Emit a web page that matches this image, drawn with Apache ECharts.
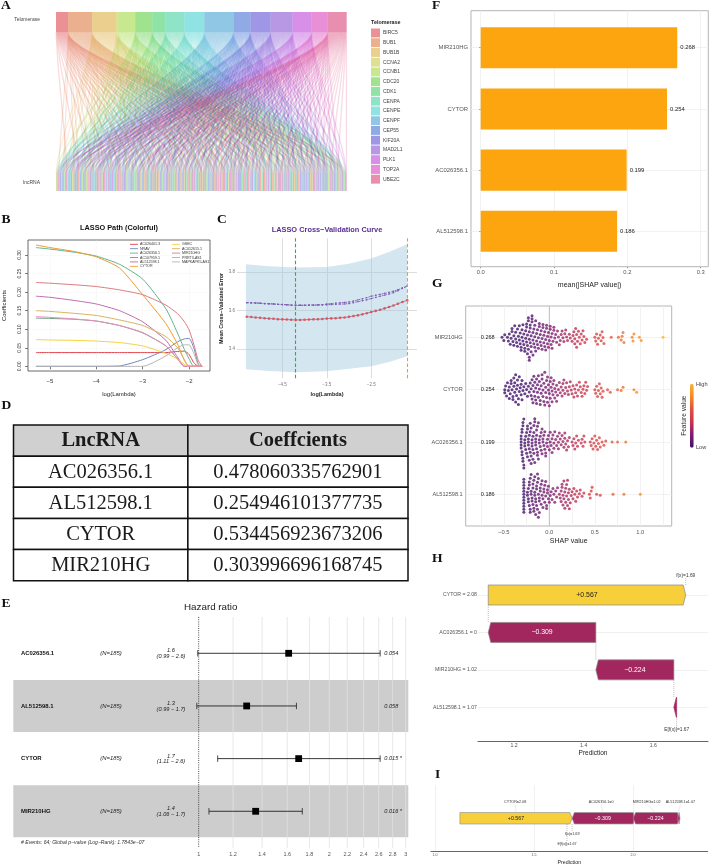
<!DOCTYPE html>
<html>
<head>
<meta charset="utf-8">
<style>html,body{margin:0;padding:0;background:#fff}#chart{width:711px;height:866px}</style>
<script src="https://cdn.jsdelivr.net/npm/echarts@6/dist/echarts.min.js"></script>
</head>
<body>
<div id="chart"></div>
<script>
// ---- Panel A: telomerase genes and the lncRNA each one links to ----
const telomeraseGenes = ['BIRC5','BUB1','BUB1B','CCNA2','CCNB1','CDC20','CDK1','CENPA','CENPE','CENPF','CEP55','KIF20A','MAD2L1','PLK1','TOP2A','UBE2C'];
const geneColors = ['#d8242e','#d8641f','#d8a01f','#bdc01f','#8fd11f','#3fc71f','#1fc750','#1fc790','#1fc7c7','#1f8fcb','#1f55cb','#3f30cb','#7130cb','#b01fd1','#d11fb0','#d11f60'];
const linksBIRC5 = [4,15,22,37,48,59,68,79,88,101,112,120,9,27,33,42,53,63,73,84,93,105,116,124];
const linksBUB1 = [1,7,12,18,24,29,35,41,44,50,56,61,66,70,75,81,86,90,96,100,106,110,117,122,3,9,14,20,26,31,37,43,48,52,58,63,68,73,78,83,88,92,98,103,108,113,119,124];
const linksBUB1B = [2,6,13,17,23,27,33,38,43,47,53,57,63,67,72,77,83,87,93,98,103,108,114,123,0,4,10,15,19,25,30,36,40,45,51,55,60,65,69,74,80,85,90,95,101,105,111,118];
const linksCCNA2 = [31,94,12,70];
const linksCCNB1 = [3,10,16,26,34,40,49,55,62,71,78,85,92,99,107,115,121,6,13,21,29,37,44,52,59,66,74,81,88,95,102,110,118,124];
const linksCDC20 = [0,9,19,25,32,42,51,58,64,73,80,89,95,104,111,118,124,4,12,22,28,36,45,54,61,67,76,83,92,98,106,114,120,122];
const linksCDK1 = [5,14,28,39,52,60,69,76,84,97,105,113,119,2,10,20,33,44,56,65,72,80,91,101,109,122];
const linksCENPA = [1,8,11,20,30,36,45,54,65,74,82,91,94,102,109,116,120,123,124,3,5,14,17,24,33,39,48,51,60,68,77,86,89,98,105,112,118,121];
const linksCENPE = [2,6,12,21,27,33,41,46,56,61,70,77,83,88,93,100,106,112,118,122,0,4,9,15,18,24,30,36,44,50,58,65,73,80,85,91,97,103,109,115];
const linksCENPF = [0,3,7,10,15,18,22,25,29,34,37,43,47,50,53,58,63,66,71,75,79,85,90,96,99,104,110,115,121,1,5,9,12,17,20,24,27,31,36,40,45,49,52,56,60,65,68,73,77,82,87,92,94,101,107,112,117,123];
const linksCEP55 = [4,13,19,24,32,39,48,55,62,68,78,86,92,101,108,114,119,1,8,16,22,28,35,43,51,58,65,73,82,89,96,104,111,116];
const linksKIF20A = [5,9,16,23,28,35,40,44,52,59,64,72,76,81,89,95,103,107,117,123,2,7,13,19,25,31,38,42,47,55,61,67,74,79,84,92,98,105,113,120];
const linksMAD2L1 = [1,8,14,17,21,26,31,38,42,49,54,60,67,73,80,84,91,97,102,111,116,124,4,11,16,23,28,34,36,44,47,52,57,63,70,76,78,87,94,100,106,109,114,120];
const linksPLK1 = [3,11,20,27,36,45,51,57,65,69,74,82,87,94,98,105,113,120,122,0,7,15,23,31,40,48,54,60,67,72,79,85,91,101,108,110,117,124];
const linksTOP2A = [6,12,19,30,41,46,56,63,70,77,83,90,100,109,115,121,3,9,16,25,35,44,52,59,66,74,80,87,96,104,111,118];
const linksUBE2C = [2,10,15,24,33,37,43,50,58,61,68,75,85,93,99,106,112,118,124,5,8,13,21,28,35,40,47,54,64,71,78,82,89,96,102,109,115,121];
const geneLinks = [linksBIRC5,linksBUB1,linksBUB1B,linksCCNA2,linksCCNB1,linksCDC20,linksCDK1,linksCENPA,linksCENPE,linksCENPF,linksCEP55,linksKIF20A,linksMAD2L1,linksPLK1,linksTOP2A,linksUBE2C];

// ---- Panel B: coefficient paths along log(lambda) ----
const pathLambda = [-5.3,-5,-4.5,-4,-3.5,-3,-2.5,-2.25,-2.1,-2,-1.9,-1.8,-1.72];
const pathAC026401 = [.037,.037,.037,.037,.037,.037,.037,.040,.041,.032,.010,0,0];
const pathNRAV = [0,0,0,0,.001,.018,.045,.066,.074,.075,.050,.005,0];
const pathAC026356 = [.320,.316,.308,.297,.275,.235,.155,.090,.045,.020,0,0,0];
const pathAC107959 = [.130,.129,.127,.122,.110,.090,.055,.020,0,0,0,0,0];
const pathAL512598 = [.189,.186,.178,.168,.150,.120,.070,.025,0,0,0,0,0];
const pathCYTOR = [.327,.320,.310,.295,.265,.193,.115,.060,.015,0,0,0,0];
const pathGSEC = [.072,.071,.070,.068,.064,.055,.035,.020,.005,0,0,0,0];
const pathAC012615 = [.150,.148,.143,.137,.125,.110,.080,.050,.018,0,0,0,0];
const pathMIR210HG = [.226,.224,.220,.215,.206,.193,.165,.142,.120,.098,.060,.015,0];
const pathPRRT3 = [.134,.132,.128,.122,.110,.091,.055,.020,0,0,0,0,0];
const pathMAPKAPK5 = [0,0,0,0,0,0,.028,.050,.058,.058,.035,.003,0];
const pathNames = ['AC026401.3','NRAV','AC026356.1','AC107959.1','AL512598.1','CYTOR','GSEC','AC012615.1','MIR210HG','PRRT3-AS1','MAPKAPK5-AS1'];
const pathValues = [pathAC026401,pathNRAV,pathAC026356,pathAC107959,pathAL512598,pathCYTOR,pathGSEC,pathAC012615,pathMIR210HG,pathPRRT3,pathMAPKAPK5];
const pathColors = ['#e2434b','#6f86c0','#5fb58e','#6f9f82','#c06bb0','#f39a2e','#f5d33d','#d9b35c','#dd7a80','#ec8ec0','#b5b5b5'];

// ---- Panel C: cross-validation error ----
const cvLambda = [-5.3,-5.2,-5.1,-5,-4.9,-4.8,-4.7,-4.6,-4.5,-4.4,-4.3,-4.2,-4.1,-4,-3.9,-3.8,-3.7,-3.6,-3.5,-3.4,-3.3,-3.2,-3.1,-3,-2.9,-2.8,-2.7,-2.6,-2.5,-2.4,-2.3,-2.2,-2.1,-2,-1.9,-1.8,-1.69];
const cvMean = [3.568,3.566,3.564,3.562,3.560,3.558,3.557,3.555,3.554,3.553,3.552,3.551,3.551,3.552,3.553,3.554,3.555,3.556,3.558,3.559,3.560,3.562,3.564,3.567,3.571,3.575,3.580,3.586,3.592,3.598,3.604,3.611,3.618,3.626,3.635,3.644,3.653];
const cvDashUpper = [3.641,3.640,3.639,3.638,3.636,3.635,3.634,3.632,3.631,3.630,3.628,3.627,3.627,3.627,3.628,3.628,3.629,3.630,3.634,3.636,3.638,3.640,3.642,3.644,3.649,3.655,3.661,3.667,3.674,3.679,3.684,3.689,3.694,3.700,3.708,3.717,3.727];
const cvDashLower = [3.641,3.640,3.639,3.638,3.636,3.635,3.634,3.632,3.631,3.630,3.628,3.627,3.627,3.627,3.628,3.628,3.629,3.630,3.630,3.631,3.632,3.633,3.634,3.636,3.641,3.646,3.651,3.656,3.662,3.668,3.674,3.680,3.686,3.693,3.703,3.715,3.726];
const ribbonLambda = [-5.32,-4.8,-4.2,-3.5,-3,-2.5,-2.1,-1.69];
const ribbonUpper = [3.84,3.83,3.824,3.826,3.843,3.87,3.904,3.944];
const ribbonLower = [3.295,3.286,3.279,3.284,3.298,3.31,3.333,3.362];
const lambdaMin = -4.2;
const lambdaOneSe = -1.69;

// ---- Panel D: model coefficients ----
const tableHeader = ['LncRNA','Coeffcients'];
const tableGenes = ['AC026356.1','AL512598.1','CYTOR','MIR210HG'];
const tableCoefs = ['0.478060335762901','0.254946101377735','0.534456923673206','0.303996696168745'];

// ---- Panel E: hazard ratios ----
const coxHR = [1.612,1.29,1.70,1.353];
const coxLow = [0.995,0.99,1.106,1.056];
const coxHigh = [2.62,1.68,2.62,1.733];
const coxHRText = ['1.6','1.3','1.7','1.4'];
const coxCIText = ['(0.99 \u2212 2.6)','(0.99 \u2212 1.7)','(1.11 \u2212 2.6)','(1.06 \u2212 1.7)'];
const coxPText = ['0.054','0.058','0.015 *','0.016 *'];
const coxTicks = [1,1.2,1.4,1.6,1.8,2,2.2,2.4,2.6,2.8,3];

// ---- Panels F and G: SHAP importance ----
const shapFeatures = ['MIR210HG','CYTOR','AC026356.1','AL512598.1'];
const shapMean = [0.268,0.254,0.199,0.186];
const shapMIR210HG = [-0.52,-0.50,-0.49,-0.46,-0.45,-0.44,-0.43,-0.42,-0.41,-0.41,-0.40,-0.39,-0.39,-0.38,-0.37,-0.37,-0.36,-0.35,-0.35,-0.34,-0.33,-0.33,-0.32,-0.32,-0.31,-0.31,-0.30,-0.30,-0.29,-0.29,-0.28,-0.28,-0.27,-0.27,-0.26,-0.26,-0.25,-0.25,-0.25,-0.24,-0.24,-0.24,-0.23,-0.23,-0.23,-0.22,-0.22,-0.22,-0.22,-0.21,-0.21,-0.21,-0.20,-0.20,-0.20,-0.19,-0.19,-0.19,-0.18,-0.18,-0.18,-0.17,-0.17,-0.16,-0.16,-0.16,-0.15,-0.15,-0.14,-0.14,-0.13,-0.13,-0.12,-0.12,-0.11,-0.11,-0.10,-0.10,-0.09,-0.09,-0.08,-0.08,-0.07,-0.07,-0.06,-0.06,-0.05,-0.05,-0.04,-0.04,-0.03,-0.03,-0.02,-0.02,-0.01,-0.01,0.00,0.01,0.01,0.02,0.02,0.03,0.03,0.04,0.05,0.05,0.06,0.07,0.08,0.09,0.10,0.11,0.12,0.13,0.14,0.15,0.16,0.17,0.18,0.19,0.20,0.22,0.23,0.25,0.26,0.27,0.28,0.28,0.29,0.30,0.30,0.31,0.32,0.33,0.34,0.35,0.36,0.37,0.38,0.39,0.41,0.50,0.51,0.52,0.53,0.54,0.56,0.57,0.58,0.59,0.60,0.68,0.76,0.79,0.80,0.81,0.82,0.91,0.92,0.93,0.99,1.01,1.25];
const shapCYTOR = [-0.49,-0.49,-0.48,-0.47,-0.46,-0.45,-0.44,-0.44,-0.43,-0.42,-0.42,-0.41,-0.40,-0.40,-0.39,-0.39,-0.38,-0.38,-0.37,-0.37,-0.36,-0.36,-0.35,-0.35,-0.34,-0.34,-0.33,-0.33,-0.32,-0.31,-0.31,-0.30,-0.30,-0.29,-0.28,-0.27,-0.26,-0.25,-0.24,-0.23,-0.22,-0.21,-0.20,-0.20,-0.19,-0.19,-0.18,-0.18,-0.17,-0.17,-0.16,-0.16,-0.15,-0.15,-0.14,-0.14,-0.13,-0.13,-0.12,-0.12,-0.11,-0.11,-0.10,-0.10,-0.09,-0.09,-0.08,-0.08,-0.07,-0.07,-0.06,-0.06,-0.05,-0.05,-0.04,-0.04,-0.03,-0.03,-0.02,-0.02,-0.01,-0.01,0.00,0.00,0.01,0.01,0.02,0.02,0.03,0.03,0.04,0.04,0.05,0.06,0.06,0.07,0.08,0.08,0.09,0.10,0.11,0.12,0.13,0.14,0.15,0.15,0.16,0.17,0.18,0.19,0.20,0.21,0.22,0.23,0.24,0.25,0.26,0.27,0.28,0.29,0.30,0.31,0.32,0.33,0.34,0.35,0.36,0.37,0.38,0.39,0.40,0.41,0.42,0.50,0.51,0.52,0.53,0.54,0.55,0.56,0.57,0.58,0.59,0.64,0.67,0.75,0.79,0.81,0.93,0.96];
const shapAC026356 = [-0.31,-0.31,-0.31,-0.31,-0.31,-0.30,-0.30,-0.30,-0.30,-0.29,-0.29,-0.29,-0.29,-0.28,-0.28,-0.28,-0.27,-0.27,-0.27,-0.26,-0.26,-0.25,-0.25,-0.24,-0.24,-0.24,-0.23,-0.23,-0.23,-0.22,-0.22,-0.22,-0.21,-0.21,-0.21,-0.20,-0.20,-0.20,-0.19,-0.19,-0.19,-0.18,-0.18,-0.18,-0.17,-0.17,-0.17,-0.16,-0.16,-0.16,-0.15,-0.15,-0.15,-0.14,-0.14,-0.14,-0.13,-0.13,-0.13,-0.12,-0.12,-0.11,-0.11,-0.10,-0.10,-0.09,-0.09,-0.08,-0.08,-0.07,-0.07,-0.06,-0.06,-0.05,-0.05,-0.04,-0.04,-0.03,-0.02,-0.02,-0.01,0,0.01,0.01,0.02,0.03,0.03,0.04,0.05,0.05,0.06,0.07,0.08,0.09,0.10,0.10,0.11,0.12,0.13,0.14,0.15,0.16,0.17,0.17,0.18,0.19,0.20,0.21,0.22,0.25,0.26,0.27,0.28,0.29,0.30,0.31,0.32,0.35,0.36,0.37,0.38,0.39,0.45,0.46,0.47,0.48,0.49,0.50,0.51,0.52,0.53,0.54,0.55,0.56,0.58,0.60,0.62,0.69,0.75,0.84];
const shapAL512598 = [-0.28,-0.28,-0.28,-0.28,-0.28,-0.28,-0.28,-0.28,-0.28,-0.28,-0.28,-0.28,-0.24,-0.24,-0.23,-0.23,-0.23,-0.22,-0.22,-0.22,-0.21,-0.21,-0.21,-0.20,-0.20,-0.20,-0.19,-0.19,-0.18,-0.18,-0.18,-0.17,-0.17,-0.17,-0.16,-0.16,-0.16,-0.15,-0.15,-0.15,-0.14,-0.14,-0.14,-0.13,-0.13,-0.13,-0.12,-0.12,-0.12,-0.11,-0.11,-0.11,-0.10,-0.10,-0.09,-0.09,-0.08,-0.08,-0.07,-0.07,-0.06,-0.06,-0.05,-0.05,-0.04,-0.04,-0.03,-0.03,-0.02,-0.02,-0.01,-0.01,0,0.01,0.02,0.03,0.04,0.05,0.06,0.07,0.08,0.09,0.11,0.12,0.13,0.13,0.14,0.14,0.15,0.15,0.16,0.16,0.17,0.17,0.18,0.18,0.19,0.19,0.20,0.20,0.21,0.21,0.22,0.22,0.23,0.24,0.25,0.26,0.27,0.28,0.29,0.30,0.31,0.33,0.34,0.36,0.38,0.44,0.45,0.46,0.47,0.52,0.56,0.70,0.82,1.00];
const shapRows = [shapMIR210HG,shapCYTOR,shapAC026356,shapAL512598];

// ---- Panels H and I: one sample's contributions ----
const contribLabels = ['CYTOR = 2.08','AC026356.1 = 0','MIR210HG = 1.02','AL512598.1 = 1.07'];
const forceLabels = ['CYTOR=2.08','AC026356.1=0','MIR210HG=1.02','AL512598.1=1.07'];
const contribValues = [0.567,-0.309,-0.224,-0.008];
const contribText = ['+0.567','\u22120.309','\u22120.224',''];
const baseValue = 1.667;
const predictedValue = 1.693;

const FONT = 'Liberation Sans';
const SERIF = 'Liberation Serif';
const box = (l, t, r, b, extra) => Object.assign({left: l, top: t, width: r - l, height: b - t, containLabel: false}, extra || {});
const hiddenAxis = (min, max, extra) => Object.assign({type: 'value', show: false, min, max}, extra || {});

const grids = [], xAxes = [], yAxes = [], series = [];
function addPanel(grid, xAxis, yAxis) {
  grids.push(grid);
  const i = grids.length - 1;
  xAxes.push(Object.assign({gridIndex: i}, xAxis));
  yAxes.push(Object.assign({gridIndex: i}, yAxis));
  return i;
}
function draw(panel, items, renderItem, extra) {
  series.push(Object.assign({
    type: 'custom', coordinateSystem: 'cartesian2d', xAxisIndex: panel, yAxisIndex: panel,
    data: items.map((_, i) => [i]), renderItem, silent: true, clip: false, encode: {x: -1, y: -1}
  }, extra || {}));
}
const label = (text, x, y, size, opts) => ({type: 'text', silent: true, style: Object.assign({
  text, x, y, fontFamily: FONT, fontSize: size, fill: '#333', align: 'center', verticalAlign: 'middle'}, opts || {})});
const rule = (x1, y1, x2, y2, style) => ({type: 'line', silent: true, shape: {x1, y1, x2, y2}, style: Object.assign({stroke: '#888', lineWidth: 0.7}, style || {})});

// Panel A: alluvial ribbons from each gene down to its lncRNA, stacked along both edges
const totalLinks = geneLinks.reduce((sum, list) => sum + list.length, 0);
const pA = addPanel(box(56, 12, 346.7, 191), hiddenAxis(0, totalLinks), hiddenAxis(0, 1));
const stripeTop = 0.888, stripeBottom = 0.099;
const lncWidth = new Array(125).fill(0);
geneLinks.forEach(list => list.forEach(k => lncWidth[k]++));
const lncStart = [];
lncWidth.reduce((sum, w, k) => (lncStart[k] = sum, sum + w), 0);
const lncUsed = new Array(125).fill(0);
let topCursor = 0;
telomeraseGenes.forEach((gene, g) => {
  const bandStart = topCursor;
  const flows = geneLinks[g].slice().sort((a, b) => a - b).map(k => ({top: topCursor++, bottom: lncStart[k] + lncUsed[k]++}));
  const bandEnd = topCursor;
  const color = geneColors[g];
  draw(pA, flows, (params, api) => {
    const f = flows[params.dataIndex];
    const a = api.coord([f.top + 0.5, stripeTop]), b = api.coord([f.bottom + 0.5, stripeBottom]);
    const span = b[1] - a[1];
    const b0 = api.coord([f.bottom, stripeBottom]), b1 = api.coord([f.bottom + 1, 0]);
    return {type: 'group', children: [
      {type: 'bezierCurve', silent: true, shape: {x1: a[0], y1: a[1], cpx1: a[0], cpy1: a[1] + span * 0.22, cpx2: b[0], cpy2: b[1] - span * 0.22, x2: b[0], y2: b[1]},
        style: {stroke: color, lineWidth: 1.3, opacity: 0.16, fill: 'none'}},
      {type: 'rect', silent: true, shape: {x: b0[0], y: b0[1], width: b1[0] - b0[0], height: b1[1] - b0[1]}, style: {fill: color, opacity: 0.42}}
    ]};
  }, {name: gene, itemStyle: {color, opacity: 0.5}});
  draw(pA, [gene], (params, api) => {
    const p0 = api.coord([bandStart, 1]), p1 = api.coord([bandEnd, stripeTop]);
    return {type: 'rect', silent: true, shape: {x: p0[0], y: p0[1], width: p1[0] - p0[0], height: p1[1] - p0[1]}, style: {fill: color, opacity: 0.5}};
  });
});

// Panel B: coefficient paths
const pB = addPanel(box(28, 240, 210, 371, {show: true, borderColor: '#444', borderWidth: 0.8}),
  {type: 'value', min: -5.47, max: -1.55, name: 'log(Lambda)', nameLocation: 'middle', nameGap: 20, nameTextStyle: {fontSize: 6, color: '#222'},
   axisLine: {show: false}, axisTick: {customValues: [-5,-4,-3,-2], length: 3, lineStyle: {color: '#444', width: 0.7}},
   axisLabel: {customValues: [-5,-4,-3,-2], fontSize: 6, color: '#333', margin: 7, formatter: v => String(v).replace('-', '\u2212')},
   splitLine: {show: true, lineStyle: {color: '#ececec', width: 0.6, type: 'dotted'}}},
  {type: 'value', min: -0.0126, max: 0.3404, name: 'Coefficients', nameLocation: 'middle', nameGap: 21, nameTextStyle: {fontSize: 6, color: '#222'},
   axisLine: {show: false}, axisTick: {customValues: [0,.05,.1,.15,.2,.25,.3], length: 3, lineStyle: {color: '#444', width: 0.7}},
   axisLabel: {customValues: [0,.05,.1,.15,.2,.25,.3], fontSize: 5, color: '#333', rotate: 90, margin: 6, formatter: v => v.toFixed(2)},
   splitLine: {show: true, lineStyle: {color: '#ececec', width: 0.6, type: 'dotted'}}});
pathNames.forEach((name, i) => {
  series.push({type: 'line', name, xAxisIndex: pB, yAxisIndex: pB, showSymbol: false, symbol: 'none', silent: true,
    smooth: 0.2, data: pathLambda.map((x, k) => [x, pathValues[i][k]]),
    lineStyle: {color: pathColors[i], width: 1}, itemStyle: {color: pathColors[i]}});
});

// Panel C: cross-validation curve with its band and the two chosen penalties
const pC = addPanel(box(237, 238.3, 417, 378.3),
  {type: 'value', min: -5.52, max: -1.47, name: 'log(Lambda)', nameLocation: 'middle', nameGap: 13, nameTextStyle: {fontSize: 5.5, fontWeight: 'bold', color: '#222'},
   axisLine: {show: false}, axisTick: {customValues: [-4.5,-3.5,-2.5], show: false},
   axisLabel: {customValues: [-4.5,-3.5,-2.5], fontSize: 4.5, color: '#777', margin: 4, formatter: v => String(v).replace('-', '\u2212')},
   splitLine: {show: true, lineStyle: {color: '#d9d9d9', width: 0.9}}},
  {type: 'value', min: 3.248, max: 3.975, name: 'Mean Cross\u2212Validated Error', nameLocation: 'middle', nameGap: 13, nameTextStyle: {fontSize: 5.3, fontWeight: 'bold', color: '#222'},
   axisLine: {show: false}, axisTick: {customValues: [3.4,3.6,3.8], show: false},
   axisLabel: {customValues: [3.4,3.6,3.8], fontSize: 4.5, color: '#777', margin: 2, formatter: v => v.toFixed(1)},
   splitLine: {show: true, lineStyle: {color: '#d9d9d9', width: 0.9}}});
draw(pC, [0], (params, api) => {
  const points = ribbonLambda.map((x, k) => api.coord([x, ribbonUpper[k]]))
    .concat(ribbonLambda.map((x, k) => api.coord([x, ribbonLower[k]])).reverse());
  return {type: 'polygon', silent: true, shape: {points}, style: {fill: '#9fc7de', opacity: 0.45}};
});
[cvDashUpper, cvDashLower].forEach(values => series.push({type: 'line', xAxisIndex: pC, yAxisIndex: pC, silent: true, symbol: 'rect', symbolSize: 1.4,
  data: cvLambda.map((x, k) => [x, values[k]]), lineStyle: {color: '#7d5bb0', width: 0.8, type: [2, 1.4]}, itemStyle: {color: '#7d5bb0'}}));
series.push({type: 'line', xAxisIndex: pC, yAxisIndex: pC, silent: true, symbol: 'circle', symbolSize: 2.6,
  data: cvLambda.map((x, k) => [x, cvMean[k]]), lineStyle: {color: '#8c7f96', width: 0.9}, itemStyle: {color: '#e2545c'},
  markLine: {silent: true, symbol: 'none', label: {show: false}, animation: false, data: [
    {xAxis: lambdaMin, lineStyle: {color: '#35b034', width: 1.1, type: [3.5, 2.2]}},
    {xAxis: lambdaOneSe, lineStyle: {color: '#f59a23', width: 1.1, type: [3.5, 2.2]}}]}});

// Panel D: coefficient table
const pD = addPanel(box(13.5, 425, 408, 580.7), hiddenAxis(0, 1), hiddenAxis(0, 5, {inverse: true}));
const tableRows = [tableHeader].concat(tableGenes.map((g, i) => [g, tableCoefs[i]]));
const colEnds = [0, 0.442, 1];
draw(pD, tableRows, (params, api) => {
  const r = params.dataIndex, children = [];
  tableRows[r].forEach((text, c) => {
    const a = api.coord([colEnds[c], r]), b = api.coord([colEnds[c + 1], r + 1]);
    children.push({type: 'rect', silent: true, shape: {x: a[0], y: a[1], width: b[0] - a[0], height: b[1] - a[1]},
      style: {fill: r === 0 ? '#d0d0d0' : '#fff', stroke: '#111', lineWidth: 1.5}});
    children.push(label(text, (a[0] + b[0]) / 2, (a[1] + b[1]) / 2 + 0.5, 20.5, {fontFamily: SERIF, fontWeight: r === 0 ? 'bold' : 'normal', fill: '#1a1a1a'}));
  });
  return {type: 'group', children};
});

// Panel E: forest plot on a logarithmic hazard-ratio scale
const pE = addPanel(box(13.3, 617, 408.3, 848), {type: 'log', show: false, min: 0.3738, max: 3.042}, hiddenAxis(0.311, 4.697, {inverse: true}));
draw(pE, [1, 3], (params, api) => {
  const row = [1, 3][params.dataIndex] + 1;
  const a = api.coord([0.3738, row - 0.5]), b = api.coord([3.042, row + 0.5]);
  return {type: 'rect', silent: true, shape: {x: a[0], y: a[1] + 0.4, width: b[0] - a[0], height: b[1] - a[1] - 0.8}, style: {fill: '#cdcdcd'}};
});
draw(pE, coxTicks, (params, api) => {
  const t = coxTicks[params.dataIndex];
  const a = api.coord([t, 0.311]), b = api.coord([t, 4.697]);
  const children = [label(String(t), a[0], b[1] + 6, 5.5, {fill: '#555'})];
  if (t === 1) children.unshift(rule(a[0], a[1], b[0], b[1], {stroke: '#222', lineWidth: 0.8, lineDash: [1, 1.2]}));
  else children.unshift(rule(a[0], a[1], b[0], b[1], {stroke: '#e2e2e2', lineWidth: 0.8}));
  return {type: 'group', children};
});
draw(pE, tableGenes, (params, api) => {
  const i = params.dataIndex, row = i + 1;
  const lo = api.coord([coxLow[i], row]), hi = api.coord([coxHigh[i], row]), mid = api.coord([coxHR[i], row]);
  const y = mid[1], s = 3.4;
  const it = {fontStyle: 'italic', fill: '#222'};
  return {type: 'group', children: [
    rule(lo[0], y, hi[0], y, {stroke: '#222', lineWidth: 0.9}),
    rule(lo[0], y - 3.2, lo[0], y + 3.2, {stroke: '#222', lineWidth: 0.8}),
    rule(hi[0], y - 3.2, hi[0], y + 3.2, {stroke: '#222', lineWidth: 0.8}),
    {type: 'rect', silent: true, shape: {x: mid[0] - s, y: y - s, width: 2 * s, height: 2 * s}, style: {fill: '#000'}},
    label(tableGenes[i], 21, y, 5.9, {align: 'left', fontWeight: 'bold', fill: '#111'}),
    label('(N=185)', 111, y, 5.9, it),
    label(coxHRText[i], 171, y - 2.6, 5.6, it),
    label(coxCIText[i], 171, y + 3, 5.6, it),
    label(coxPText[i], 384.3, y, 5.6, Object.assign({align: 'left'}, it))
  ]};
});

// Panel F: mean absolute SHAP bars
const shapAxisStyle = {axisLine: {show: false}, splitLine: {show: true, lineStyle: {color: '#ececec', width: 0.7}}};
const pF = addPanel(box(471, 10.7, 708.3, 266.7, {show: true, borderColor: '#b5b5b5', borderWidth: 1}),
  Object.assign({type: 'value', min: -0.0132, max: 0.3103, name: 'mean(|SHAP value|)', nameLocation: 'middle', nameGap: 15, nameTextStyle: {fontSize: 7, color: '#222'},
   axisTick: {customValues: [0,.1,.2,.3], length: 1.5, lineStyle: {color: '#999'}}, axisLabel: {customValues: [0,.1,.2,.3], fontSize: 5.8, color: '#555', margin: 3, formatter: v => v.toFixed(1)}}, shapAxisStyle),
  Object.assign({type: 'value', inverse: true, min: 0.395, max: 4.578,
   axisTick: {customValues: [1,2,3,4], length: 1.5, lineStyle: {color: '#999'}}, axisLabel: {customValues: [1,2,3,4], fontSize: 5.9, color: '#555', margin: 3, formatter: v => shapFeatures[v - 1]}}, shapAxisStyle));
draw(pF, shapFeatures, (params, api) => {
  const i = params.dataIndex, row = i + 1;
  const a = api.coord([0, row - 0.335]), b = api.coord([shapMean[i], row + 0.335]);
  return {type: 'group', children: [
    {type: 'rect', silent: true, shape: {x: a[0], y: a[1], width: b[0] - a[0], height: b[1] - a[1]}, style: {fill: '#fda50f'}},
    label(shapMean[i].toFixed(3), b[0] + 3, (a[1] + b[1]) / 2, 5.9, {align: 'left', fill: '#222'})
  ]};
});

// Panel G: beeswarm; offsets come from a collision search over the SHAP values
const swarmPxPerUnit = 91, swarmRowPx = 52.3, swarmGap = 3.75, swarmStackGap = 3;
function swarmOffsets(values) {
  const placed = [];
  return values.map(v => {
    const x = v * swarmPxPerUnit;
    const clearance = p => (p[0] === x ? swarmStackGap : swarmGap);
    const near = placed.filter(p => Math.abs(p[0] - x) < clearance(p));
    const options = [0];
    near.forEach(p => {
      const g = clearance(p);
      const dy = Math.sqrt(g * g - (p[0] - x) * (p[0] - x));
      options.push(p[1] + dy + 0.01, p[1] - dy - 0.01);
    });
    options.sort((a, b) => Math.abs(a) - Math.abs(b));
    const y = options.find(o => near.every(p => {
      const g = clearance(p);
      return (p[0] - x) * (p[0] - x) + (p[1] - o) * (p[1] - o) >= g * g - 0.001;
    }));
    placed.push([x, y]);
    return y;
  });
}
const pG = addPanel(box(465.7, 306, 671.7, 526, {show: true, borderColor: '#b5b5b5', borderWidth: 1}),
  Object.assign({type: 'value', min: -0.919, max: 1.345, name: 'SHAP value', nameLocation: 'middle', nameGap: 12, nameTextStyle: {fontSize: 7, color: '#222'},
   axisTick: {customValues: [-.75,-.5,-.25,0,.25,.5,.75,1,1.25], length: 0}, axisLabel: {customValues: [-.5,0,.5,1], fontSize: 5.8, color: '#555', margin: 3, formatter: v => v.toFixed(1).replace('-', '\u2212')}}, shapAxisStyle),
  Object.assign({type: 'value', inverse: true, min: 0.4015, max: 4.606,
   axisTick: {customValues: [1,2,3,4], length: 1.5, lineStyle: {color: '#999'}}, axisLabel: {customValues: [1,2,3,4], fontSize: 5.6, color: '#555', margin: 3, formatter: v => shapFeatures[v - 1]}}, shapAxisStyle));
draw(pG, [0], (params, api) => {
  const a = api.coord([0, 0.4015]), b = api.coord([0, 4.606]);
  return rule(a[0], a[1], b[0], b[1], {stroke: '#bdbdbd', lineWidth: 1});
});
draw(pG, shapFeatures, (params, api) => {
  const c = api.coord([-0.677, params.dataIndex + 1]);
  return label(shapMean[params.dataIndex].toFixed(3), c[0], c[1], 5.6, {fill: '#222'});
});
const swarmData = [];
shapRows.forEach((values, r) => swarmOffsets(values).forEach((off, k) => swarmData.push([values[k], r + 1 + off / swarmRowPx, values[k]])));
series.push({type: 'scatter', xAxisIndex: pG, yAxisIndex: pG, silent: true, symbolSize: 3, data: swarmData, encode: {x: 0, y: 1}});
const swarmSeriesIndex = series.length - 1;

// Cumulative ends of each contribution, walking back from the base value
function contributionSpans() {
  const spans = [];
  let end = baseValue;
  for (let i = contribValues.length - 1; i >= 0; i--) {
    const start = end;
    end = start + contribValues[i];
    spans[i] = [start, end];
  }
  return spans;
}
const spans = contributionSpans();

// Panel H: waterfall
const pH = addPanel(box(478, 570, 708, 741),
  {type: 'value', min: 1.0966, max: 1.757, name: 'Prediction', nameLocation: 'middle', nameGap: 9, nameTextStyle: {fontSize: 6.5, color: '#222'},
   axisLine: {show: true, lineStyle: {color: '#666', width: 1}}, axisTick: {show: false}, splitLine: {show: false},
   axisLabel: {customValues: [1.2,1.4,1.6], fontSize: 5.2, color: '#555', margin: 2, formatter: v => v.toFixed(1)}},
  {type: 'value', inverse: true, min: 0.3324, max: 4.9, axisLine: {show: false},
   axisTick: {customValues: [1,2,3,4], show: false}, splitLine: {show: true, lineStyle: {color: '#ececec', width: 0.8}},
   axisLabel: {customValues: [1,2,3,4], fontSize: 5.2, color: '#555', margin: 1, formatter: v => contribLabels[v - 1]}});
const POS = '#f6cf3a', NEG = '#a3275f';
draw(pH, contribValues, (params, api) => {
  const i = params.dataIndex, row = i + 1, v = contribValues[i];
  const a = api.coord([spans[i][0], row - 0.267]), b = api.coord([spans[i][1], row + 0.267]);
  const ym = (a[1] + b[1]) / 2, dir = v >= 0 ? 1 : -1, n = Math.min(2.5, Math.abs(b[0] - a[0]));
  const points = [[a[0], a[1]], [b[0] - dir * n, a[1]], [b[0], ym], [b[0] - dir * n, b[1]], [a[0], b[1]]];
  const children = [{type: 'polygon', silent: true, shape: {points},
    style: {fill: v >= 0 ? POS : NEG, stroke: Math.abs(v) > 0.05 ? '#888' : NEG, lineWidth: 0.7}}];
  if (contribText[i]) children.push(label(contribText[i], (a[0] + b[0]) / 2, ym, 6.9, {fill: v >= 0 ? '#222' : '#fff'}));
  if (i < contribValues.length - 1) {
    const d = api.coord([spans[i][0], row + 0.733]);
    children.push(rule(a[0], b[1], d[0], d[1], {stroke: '#777', lineWidth: 0.5, lineDash: [1, 1]}));
  }
  return {type: 'group', children};
});
draw(pH, [0], (params, api) => {
  const f0 = api.coord([predictedValue, 1 - 0.267]), f1 = api.coord([predictedValue, 0.55]);
  const e0 = api.coord([baseValue, 4.267]), e1 = api.coord([baseValue, 4.53]);
  return {type: 'group', children: [
    rule(f0[0], f0[1], f1[0], f1[1], {stroke: '#777', lineWidth: 0.5, lineDash: [1, 1]}),
    rule(e0[0], e0[1], e1[0], e1[1], {stroke: '#777', lineWidth: 0.5, lineDash: [1, 1]}),
    label('f(x)=1.69', f1[0], f1[1] - 2, 4.8, {fill: '#333'}),
    label('E[f(x)]=1.67', e1[0], e1[1] + 3, 4.8, {fill: '#333'})
  ]};
});

// Panel I: the same contributions laid end to end
const pI = addPanel(box(431, 785, 707.7, 854.3),
  {type: 'value', min: 0.98, max: 2.378, name: 'Prediction', nameLocation: 'middle', nameGap: 8.5, nameTextStyle: {fontSize: 5.3, color: '#222'},
   axisLine: {show: true, lineStyle: {color: '#666', width: 1}}, axisTick: {customValues: [1,1.5,2], show: false},
   axisLabel: {customValues: [1,1.5,2], fontSize: 3.6, color: '#555', margin: 1.5, formatter: v => v.toFixed(1)},
   splitLine: {show: true, lineStyle: {color: '#ececec', width: 0.8}}},
  hiddenAxis(0, 1));
const forceOrder = [0, 1, 2, 3];
const forceSpans = [[predictedValue - contribValues[0], predictedValue]];
forceOrder.slice(1).forEach(i => {
  const start = forceSpans[i - 1][1];
  forceSpans.push([start, start - contribValues[i]]);
});
const forceLabelX = [1.405, 1.84, 2.07, 2.24];
draw(pI, forceOrder, (params, api) => {
  const i = params.dataIndex, v = contribValues[i];
  const a = api.coord([forceSpans[i][0], 0.586]), b = api.coord([forceSpans[i][1], 0.414]);
  const ym = (a[1] + b[1]) / 2, n = Math.min(2.2, Math.abs(b[0] - a[0]));
  const points = v >= 0
    ? [[a[0], a[1]], [b[0] - n, a[1]], [b[0], ym], [b[0] - n, b[1]], [a[0], b[1]]]
    : [[a[0], ym], [a[0] + n, a[1]], [b[0], a[1]], [b[0] + n * 0.5, ym], [b[0], b[1]], [a[0] + n, b[1]]];
  const lab = api.coord([forceLabelX[i], 0.74]);
  const anchor = api.coord([(forceSpans[i][0] + forceSpans[i][1]) / 2, 0.586]);
  const children = [
    {type: 'polygon', silent: true, shape: {points}, style: {fill: v >= 0 ? POS : NEG, stroke: '#999', lineWidth: 0.7}},
    rule(lab[0], lab[1] + 2, anchor[0], anchor[1], {stroke: '#ccc', lineWidth: 0.4}),
    label(forceLabels[i], lab[0], lab[1], 3.7, {fill: '#333'})
  ];
  if (contribText[i]) children.push(label(contribText[i], (a[0] + b[0]) / 2, ym, 5.3, {fill: v >= 0 ? '#222' : '#fff'}));
  return {type: 'group', children};
});
draw(pI, [0], (params, api) => {
  const f0 = api.coord([predictedValue, 0.414]), f1 = api.coord([predictedValue, 0.31]);
  const e0 = api.coord([baseValue, 0.414]), e1 = api.coord([baseValue, 0.155]);
  return {type: 'group', children: [
    rule(f0[0], f0[1], f1[0], f1[1], {stroke: '#777', lineWidth: 0.5, lineDash: [1, 1]}),
    rule(e0[0], e0[1], e1[0], e1[1], {stroke: '#777', lineWidth: 0.5, lineDash: [1, 1]}),
    label('f(x)=1.69', f1[0], f1[1] + 3, 3.7),
    label('E[f(x)]=1.67', e1[0], e1[1] + 3, 3.7)
  ]};
});

// Titles, panel letters and other free-standing text
const gText = (text, x, y, size, opts, rotation) => ({type: 'text', x, y, rotation: rotation || 0, silent: true, z: 50,
  style: Object.assign({text, fontFamily: FONT, fontSize: size, fill: '#222', align: 'center', verticalAlign: 'middle'}, opts || {})});
const letter = (text, x, y) => gText(text, x, y, 13.5, {fontFamily: SERIF, fontWeight: 'bold', fill: '#111', align: 'left'});
const graphics = [
  letter('A', 1, 6), letter('B', 1.5, 220), letter('C', 217, 220), letter('D', 1.5, 406), letter('E', 1.5, 604),
  letter('F', 432, 6), letter('G', 432, 284), letter('H', 432, 559), letter('I', 435, 775),
  gText('Telomerase', 40, 20, 5, {align: 'right', fill: '#444'}),
  gText('lncRNA', 40, 183, 5, {align: 'right', fill: '#444'}),
  gText('Telomerase', 371, 22.5, 5.4, {align: 'left', fontWeight: 'bold', fill: '#222'}),
  gText('LASSO Path (Colorful)', 119, 227.5, 7.3, {fontWeight: 'bold', fill: '#111'}),
  gText('LASSO Cross\u2212Validation Curve', 327, 230, 7.4, {fontWeight: 'bold', fill: '#5a2d91'}),
  gText('Hazard ratio', 210.7, 607.3, 9.8, {fill: '#222'}),
  gText('# Events: 64; Global p\u2212value (Log\u2212Rank): 1.7843e\u221207', 21, 842.5, 5.1, {align: 'left', fontStyle: 'italic', fill: '#333'}),
  gText('Feature value', 684, 415.7, 6.6, {fill: '#333'}, Math.PI / 2),
  gText('High', 696, 384.5, 5.6, {align: 'left', fill: '#444'}),
  gText('Low', 696, 447.7, 5.6, {align: 'left', fill: '#444'})
];

const chart = echarts.init(document.getElementById('chart'), null, {renderer: 'canvas'});
chart.setOption({
  animation: false,
  backgroundColor: '#fff',
  textStyle: {fontFamily: FONT},
  grid: grids, xAxis: xAxes, yAxis: yAxes, series,
  graphic: graphics,
  legend: [
    {data: telomeraseGenes, orient: 'vertical', left: 371, top: 28.5, padding: 0, itemWidth: 9, itemHeight: 8.9, itemGap: 0.85, icon: 'rect',
     selectedMode: false, textStyle: {fontSize: 5, color: '#444', padding: [0, 0, 0, -2]}},
    {data: pathNames.slice(0, 6), orient: 'vertical', left: 130, top: 242.1, padding: 0, icon: 'rect', itemWidth: 8, itemHeight: 0.9, itemGap: 0, selectedMode: false,
     textStyle: {fontSize: 3.6, color: '#333', lineHeight: 4.4, padding: [0, 0, 0, -3]}},
    {data: pathNames.slice(6), orient: 'vertical', left: 172, top: 242.1, padding: 0, icon: 'rect', itemWidth: 8, itemHeight: 0.9, itemGap: 0, selectedMode: false,
     textStyle: {fontSize: 3.6, color: '#333', lineHeight: 4.4, padding: [0, 0, 0, -3]}}
  ],
  visualMap: {type: 'continuous', seriesIndex: swarmSeriesIndex, dimension: 2, min: -0.3, max: 1.25, calculable: false, realtime: false,
    left: 690, top: 384, padding: 0, itemWidth: 3.7, itemHeight: 63.7, text: null, showLabel: false, hoverLink: false, silent: true,
    inRange: {color: ['#40106a','#7d1d72','#c8334f','#e04f3e','#f58a22','#fdb42f']}}
});
</script>
</body>
</html>
